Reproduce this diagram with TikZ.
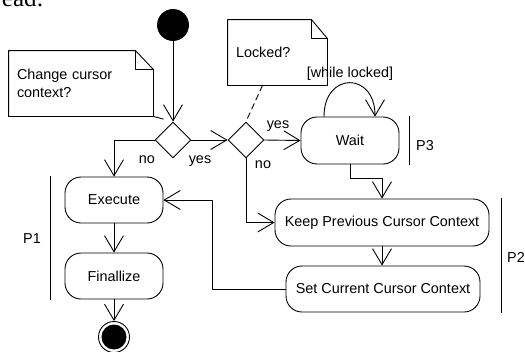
\documentclass[tikz,border=0pt]{standalone}
\usepackage{fontspec}
\setmainfont{Liberation Sans}
\newfontfamily\headfont{Liberation Serif}
\usetikzlibrary{arrows.meta,shapes.geometric}

\begin{document}
\begin{tikzpicture}[line cap=round,line join=round,x=1pt,y=-1pt,
	>={Straight Barb[length=16pt,width=19pt]},line width=0.9pt,
	font=\fontsize{14.4}{18}\selectfont,
	action/.style={draw,rectangle,rounded corners=16pt,minimum height=47pt,inner sep=0pt},
	choice/.style={draw,diamond,minimum size=36pt,inner sep=0pt},
	note/.style={rectangle,minimum height=65pt,inner sep=8pt,align=left},
	part/.style={line width=1.4pt}]
	\clip (0,0) rectangle (525,351);
	\node[anchor=base east,inner sep=0pt] (head) at (44,6) {\headfont\fontsize{25}{25}\selectfont ead:};
	\node[draw,circle,fill=black,minimum size=31pt,inner sep=0pt] (start) at (173,25) {};
	\node[choice] (d1) at (173,140) {};
	\node[choice] (d2) at (246,140) {};
	\node[action,minimum width=98pt] (wait) at (350,140.5) {Wait};
	\node[action,minimum width=214pt] (keep) at (382,222.5) {Keep Previous Cursor Context};
	\node[action,minimum width=194pt,minimum height=46pt] (set) at (383,289) {Set Current Cursor Context};
	\node[action,minimum width=98pt,minimum height=46pt] (exec) at (114,200) {Execute};
	\node[action,minimum width=98pt,minimum height=46pt] (fin) at (114,276) {Finallize};
	\node[draw,circle,minimum size=31pt,inner sep=0pt] (end) at (114,337) {};
	\fill (end.center) circle (12.5pt);
	% notes
	\node[note,text width=128pt] (n1) at (81,83.5) {Change cursor\\context?};
	\draw (n1.north west) -- ([xshift=-18pt]n1.north east) -- ([yshift=-19pt]n1.north east) -- (n1.south east) -- (n1.south west) -- cycle;
	\draw ([xshift=-18pt]n1.north east) -- ([xshift=-18pt,yshift=-19pt]n1.north east) -- ([yshift=-19pt]n1.north east);
	\node[note,text width=83pt] (n2) at (277.5,52.5) {Locked?};
	\draw (n2.north west) -- ([xshift=-16pt]n2.north east) -- ([yshift=-19pt]n2.north east) -- (n2.south east) -- (n2.south west) -- cycle;
	\draw ([xshift=-16pt]n2.north east) -- ([xshift=-16pt,yshift=-19pt]n2.north east) -- ([yshift=-19pt]n2.north east);
	\draw[shorten >=10pt] (n1.south east) -- (d1.north);
	\draw[dash pattern=on 6pt off 4pt] ([xshift=-15pt]n2.south) -- (d2.north);
	% flows
	\draw[->] (start) -- (d1);
	\draw[->] (d1.west) -| (exec.north);
	\draw[->] (d1.east) -- (d2.west);
	\draw[->] (d2.east) -- (wait.west);
	\draw[->] (d2.south) |- (keep.west);
	\draw[->] ([xshift=-26pt]wait.north) .. controls +(0,-45) and +(0,-45) .. ([xshift=25pt]wait.north);
	\draw[->] (wait.south) -- ++(0,14) -| (keep.north);
	\draw[->] (keep.south) -- (keep.south |- set.north);
	\draw[->] (set.west) -- ++(-73,0) |- (exec.east);
	\draw[->] (exec) -- (fin);
	\draw[->] (fin) -- (end);
	% labels
	\node[anchor=base] (no1) at (147,163) {no};
	\node[anchor=base] (yes1) at (200,163) {yes};
	\node[anchor=base] (yes2) at (278,128) {yes};
	\node[anchor=base] (no2) at (263,168) {no};
	\node (loop) at (350,74) {[while locked]};
	% partitions
	\draw[part] ([xshift=10pt]wait.north east) -- ([xshift=10pt]wait.south east);
	\draw[part] ([xshift=12pt]keep.north east) -- ([xshift=12pt]keep.north east |- set.south);
	\draw[part] ([xshift=-14pt]exec.north west) -- ([xshift=-14pt]fin.south west);
	\node[anchor=base] (p3) at (425,150) {P3};
	\node[anchor=base] (p2) at (516,262) {P2};
	\node[anchor=base] (p1) at (32,243) {P1};
\end{tikzpicture}
\end{document}
